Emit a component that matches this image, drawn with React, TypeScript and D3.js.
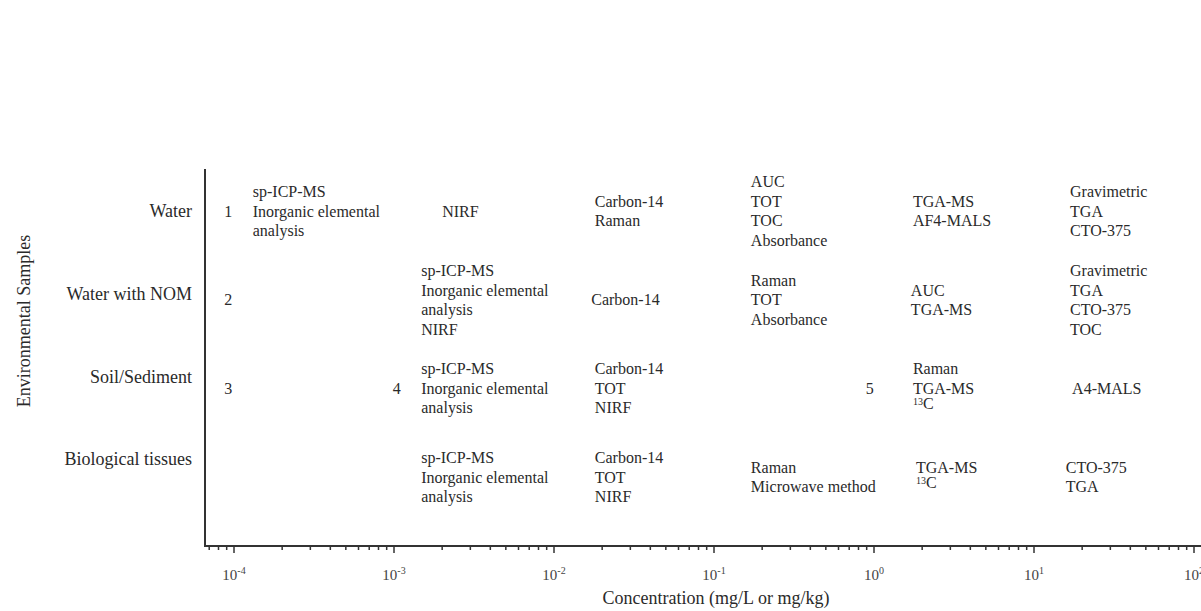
import React from "react";
import * as d3 from "d3";

const ROWS = ["Water", "Water with NOM", "Soil/Sediment", "Biological tissues"];
const X_TICKS = [1e-4, 1e-3, 1e-2, 1e-1, 1e0, 1e1, 1e2];
const X_TICK_EXP = ["-4", "-3", "-2", "-1", "0", "1", "2"];
const X_TITLE = "Concentration (mg/L or mg/kg)";
const Y_TITLE = "Environmental Samples";

const MARKER_LABELS = ["1", "2", "3", "4", "5"];
const MARKER_ROWS = [0, 1, 2, 2, 2];
const MARKER_CONC = [9.2e-5, 9.2e-5, 9.2e-5, 1.04e-3, 0.94];

const GROUP_ROWS = [0, 0, 0, 0, 0, 0, 1, 1, 1, 1, 1, 2, 2, 2, 2, 3, 3, 3, 3, 3];
const GROUP_CONC = [
  1.31e-4, 2.0e-3, 0.018, 0.17, 1.75, 16.8,
  1.48e-3, 0.0171, 0.17, 1.7, 16.8,
  1.48e-3, 0.018, 1.75, 17.3,
  1.48e-3, 0.018, 0.17, 1.83, 15.8,
];
const GROUP_LINES: string[][] = [
  ["sp-ICP-MS", "Inorganic elemental", "analysis"],
  ["NIRF"],
  ["Carbon-14", "Raman"],
  ["AUC", "TOT", "TOC", "Absorbance"],
  ["TGA-MS", "AF4-MALS"],
  ["Gravimetric", "TGA", "CTO-375"],
  ["sp-ICP-MS", "Inorganic elemental", "analysis", "NIRF"],
  ["Carbon-14"],
  ["Raman", "TOT", "Absorbance"],
  ["AUC", "TGA-MS"],
  ["Gravimetric", "TGA", "CTO-375", "TOC"],
  ["sp-ICP-MS", "Inorganic elemental", "analysis"],
  ["Carbon-14", "TOT", "NIRF"],
  ["Raman", "TGA-MS", "{13}C"],
  ["A4-MALS"],
  ["sp-ICP-MS", "Inorganic elemental", "analysis"],
  ["Carbon-14", "TOT", "NIRF"],
  ["Raman", "Microwave method"],
  ["TGA-MS", "{13}C"],
  ["CTO-375", "TGA"],
];

const FONT = "'Liberation Serif', 'Times New Roman', serif";
const TEXT = "#2a2a2a";

function Line({ s }: { s: string }) {
  const m = s.match(/^\{(\d+)\}(.*)$/);
  if (m) {
    return (
      <>
        <tspan fontSize={10} dy={-3}>{m[1]}</tspan>
        <tspan dy={4}>{m[2]}</tspan>
      </>
    );
  }
  return <>{s}</>;
}

export default function App() {
  const W = 1201, H = 611;
  const axisX = 205, axisTop = 169, axisY = 546;
  const x = d3.scaleLog().domain([Math.pow(10, -4 - 29 / 160), Math.pow(10, 2 + 7 / 160)]).range([axisX, W]);
  const labelY = d3.scalePoint<string>().domain(ROWS).range([211, 459]);
  const blockY = d3.scalePoint<string>().domain(ROWS).range([211, 477]);
  const pitch = 19.5;

  const [d0, d1] = x.domain();
  const minor: number[] = [];
  for (let e = -5; e <= 2; e++) {
    for (let k = 2; k <= 9; k++) {
      const v = k * Math.pow(10, e);
      if (v >= d0 && v <= d1) minor.push(v);
    }
  }

  return (
    <svg width={W} height={H} style={{ display: "block", position: "absolute", left: 0, top: 0 }} fontFamily={FONT}>
      <rect width={W} height={H} fill="#fff" />
      <line x1={axisX} x2={axisX} y1={axisTop} y2={axisY + 1} stroke="#333" strokeWidth={2} />
      <line x1={axisX} x2={W} y1={axisY} y2={axisY} stroke="#333" strokeWidth={2} />
      {minor.map((v, i) => (
        <line key={"m" + i} x1={x(v)} x2={x(v)} y1={axisY} y2={axisY + 4} stroke="#333" strokeWidth={1.5} />
      ))}
      {X_TICKS.map((v, i) => (
        <g key={"t" + i}>
          <line x1={x(v)} x2={x(v)} y1={axisY} y2={axisY + 7} stroke="#333" strokeWidth={1.5} />
          <text x={x(v)} y={580} textAnchor="middle" fontSize={15} fill="#444">
            10<tspan fontSize={10} dy={-6}>{X_TICK_EXP[i]}</tspan>
          </text>
        </g>
      ))}
      <text x={716} y={604} textAnchor="middle" fontSize={18} fill={TEXT}>{X_TITLE}</text>
      <text transform={`translate(24,321) rotate(-90)`} textAnchor="middle" fontSize={18} fill={TEXT} dy="0.35em">{Y_TITLE}</text>

      {ROWS.map((r) => (
        <text key={r} x={192} y={labelY(r)} dy="0.35em" textAnchor="end" fontSize={18} fill={TEXT}>{r}</text>
      ))}

      {MARKER_LABELS.map((m, i) => (
        <text key={"n" + i} x={x(MARKER_CONC[i])} y={blockY(ROWS[MARKER_ROWS[i]])} dy="0.35em" textAnchor="middle" fontSize={16} fill={TEXT}>{m}</text>
      ))}

      {GROUP_LINES.map((lines, gi) => {
        const cy = blockY(ROWS[GROUP_ROWS[gi]])!;
        const top = cy - ((lines.length - 1) * pitch) / 2;
        return (
          <g key={"g" + gi}>
            {lines.map((s, li) => (
              <text key={li} x={x(GROUP_CONC[gi])} y={top + li * pitch} dy="0.35em" fontSize={16} fill={TEXT}>
                <Line s={s} />
              </text>
            ))}
          </g>
        );
      })}
    </svg>
  );
}
